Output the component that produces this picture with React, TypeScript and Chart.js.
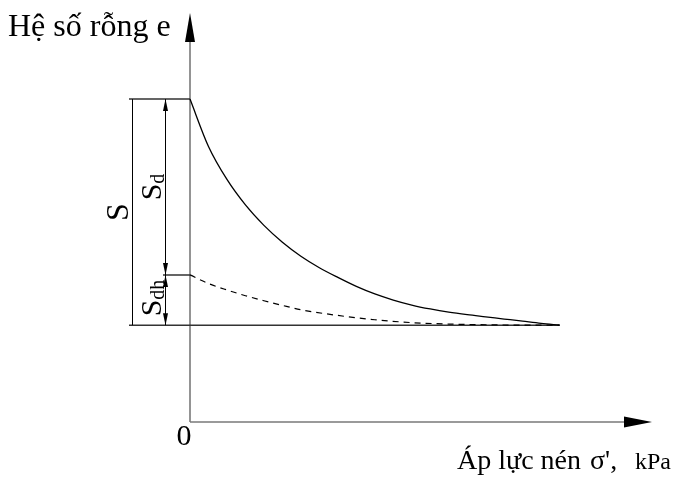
import React, { useEffect, useRef } from "react";
import { Chart, registerables } from "chart.js";

Chart.register(...registerables);

// Loading (compression) curve: effective stress σ' vs void ratio e
const sigmaLoading = [0, 5, 10, 15, 20, 25, 30, 35, 40, 45, 50, 55, 60, 65, 70, 75, 80, 85, 90, 95, 100];
const eLoading = [0.9, 0.768, 0.676, 0.605, 0.548, 0.501, 0.462, 0.43, 0.403, 0.378, 0.357, 0.34, 0.326, 0.315, 0.306, 0.299, 0.293, 0.287, 0.281, 0.275, 0.27];

// Rebound (dashed) curve
const sigmaRebound = [0, 5, 10, 15, 20, 25, 30, 40, 50, 60, 70, 80, 90, 100];
const eRebound = [0.41, 0.386, 0.368, 0.352, 0.338, 0.325, 0.313, 0.297, 0.285, 0.277, 0.273, 0.271, 0.27, 0.27];

// Key levels
const E_INITIAL = 0.9;
const E_DH = 0.41;
const E_RESIDUAL = 0.27;
const SIGMA_END = 100;
const X_MAX = 125;
const Y_MAX = 1.14;

// Texts
const yTitle = "Hệ số rỗng e";
const xTitleMain = "Áp lực nén";
const xTitleSymbol = "σ',";
const xTitleUnit = "kPa";
const originLabel = "0";
const labelS = "S";
const labelSdSub = "d";
const labelSdhSub = "dh";

const SERIF = '"Liberation Serif", "Times New Roman", serif';

function filledArrow(ctx: CanvasRenderingContext2D, tipX: number, tipY: number, dx: number, dy: number, len: number, half: number) {
  const bx = tipX - dx * len;
  const by = tipY - dy * len;
  const px = -dy, py = dx;
  ctx.beginPath();
  ctx.moveTo(tipX, tipY);
  ctx.lineTo(bx + px * half, by + py * half);
  ctx.lineTo(bx - px * half, by - py * half);
  ctx.closePath();
  ctx.fill();
}

function rotatedLabel(ctx: CanvasRenderingContext2D, baseX: number, centerY: number, main: string, sub: string, mainSize: number, subSize: number, subDrop: number) {
  ctx.save();
  ctx.translate(baseX, centerY);
  ctx.rotate(-Math.PI / 2);
  ctx.font = `${mainSize}px ${SERIF}`;
  const w1 = ctx.measureText(main).width;
  ctx.font = `${subSize}px ${SERIF}`;
  const w2 = sub ? ctx.measureText(sub).width : 0;
  const start = -(w1 + w2) / 2;
  ctx.textAlign = "left";
  ctx.textBaseline = "alphabetic";
  ctx.font = `${mainSize}px ${SERIF}`;
  ctx.fillText(main, start, 0);
  if (sub) {
    ctx.font = `${subSize}px ${SERIF}`;
    ctx.fillText(sub, start + w1, subDrop);
  }
  ctx.restore();
}

const diagramPlugin = {
  id: "diagram",
  beforeDatasetsDraw(chart: any) {
    const { ctx, chartArea } = chart;
    const xs = chart.scales.x;
    const ys = chart.scales.y;
    const x0 = xs.getPixelForValue(0);
    const y0 = ys.getPixelForValue(0);
    const yE0 = ys.getPixelForValue(E_INITIAL);
    const yEdh = ys.getPixelForValue(E_DH);
    const yEr = ys.getPixelForValue(E_RESIDUAL);
    const xEnd = xs.getPixelForValue(SIGMA_END);
    ctx.save();
    ctx.strokeStyle = "#7a7a7a";
    ctx.lineWidth = 1.6;
    ctx.beginPath();
    ctx.moveTo(x0, y0);
    ctx.lineTo(chartArea.right - 20, y0);
    ctx.moveTo(x0, y0);
    ctx.lineTo(x0, chartArea.top + 20);
    ctx.stroke();
    ctx.strokeStyle = "#333333";
    ctx.lineWidth = 1.5;
    ctx.beginPath();
    ctx.moveTo(x0 - 61, yE0);
    ctx.lineTo(x0, yE0);
    ctx.moveTo(x0 - 27, yEdh);
    ctx.lineTo(x0, yEdh);
    ctx.moveTo(x0 - 61, yEr);
    ctx.lineTo(xEnd, yEr);
    ctx.stroke();
    ctx.restore();
  },
  afterDatasetsDraw(chart: any) {
    const { ctx, chartArea } = chart;
    const xs = chart.scales.x;
    const ys = chart.scales.y;
    const x0 = xs.getPixelForValue(0);
    const y0 = ys.getPixelForValue(0);
    const yE0 = ys.getPixelForValue(E_INITIAL);
    const yEdh = ys.getPixelForValue(E_DH);
    const yEr = ys.getPixelForValue(E_RESIDUAL);
    ctx.save();
    ctx.fillStyle = "#000";
    filledArrow(ctx, x0, chartArea.top, 0, -1, 29, 5);
    filledArrow(ctx, chartArea.right, y0, 1, 0, 28, 5.5);

    const xS = Math.round(x0 - 58) + 0.5;
    const xSd = Math.round(x0 - 25) + 0.5;
    ctx.strokeStyle = "#000";
    ctx.lineWidth = 1;
    ctx.beginPath();
    ctx.moveTo(xS, yE0);
    ctx.lineTo(xS, yEr);
    ctx.moveTo(xSd, yE0);
    ctx.lineTo(xSd, yEr);
    ctx.stroke();
    filledArrow(ctx, xSd, yE0, 0, -1, 12, 2.5);
    filledArrow(ctx, xSd, yEdh, 0, 1, 12, 2.5);
    filledArrow(ctx, xSd, yEdh, 0, -1, 12, 2.5);
    filledArrow(ctx, xSd, yEr, 0, 1, 12, 2.5);

    ctx.fillStyle = "#000";
    ctx.textBaseline = "alphabetic";
    ctx.font = `32px ${SERIF}`;
    ctx.textAlign = "left";
    ctx.fillText(yTitle, 8, 36);

    ctx.textAlign = "center";
    ctx.font = `30px ${SERIF}`;
    ctx.fillText(originLabel, x0 - 6, y0 + 23);

    // x title
    ctx.textAlign = "left";
    ctx.font = `28px ${SERIF}`;
    ctx.fillText(xTitleMain, 457, 469);
    ctx.font = `28px ${SERIF}`;
    ctx.fillText(xTitleSymbol, 590, 469);
    ctx.font = `24px ${SERIF}`;
    ctx.fillText(xTitleUnit, 635, 469);

    rotatedLabel(ctx, xS - 5, (yE0 + yEr) / 2, labelS, "", 32, 20, 0);
    rotatedLabel(ctx, xSd - 5, (yE0 + yEdh) / 2, labelS, labelSdSub, 30, 20, 3);
    rotatedLabel(ctx, xSd - 5, (yEdh + yEr) / 2 - 2, labelS, labelSdhSub, 30, 20, 3);
    ctx.restore();
  },
};

export default function App() {
  const canvasRef = useRef<HTMLCanvasElement | null>(null);

  useEffect(() => {
    if (!canvasRef.current) return;
    const chart = new Chart(canvasRef.current, {
      type: "scatter",
      data: {
        datasets: [
          {
            label: "loading",
            data: sigmaLoading.map((s, i) => ({ x: s, y: eLoading[i] })),
            showLine: true,
            borderColor: "#000",
            borderWidth: 1.3,
            pointRadius: 0,
            cubicInterpolationMode: "monotone",
            clip: false,
          },
          {
            label: "rebound",
            data: sigmaRebound.map((s, i) => ({ x: s, y: eRebound[i] })),
            showLine: true,
            borderColor: "#000",
            borderWidth: 1.2,
            borderDash: [6, 5],
            pointRadius: 0,
            cubicInterpolationMode: "monotone",
            clip: false,
          },
        ],
      },
      options: {
        animation: false,
        responsive: true,
        maintainAspectRatio: false,
        layout: { padding: { left: 190, right: 27, top: 13, bottom: 57 } },
        plugins: { legend: { display: false }, tooltip: { enabled: false } },
        scales: {
          x: { type: "linear", min: 0, max: X_MAX, display: false },
          y: { type: "linear", min: 0, max: Y_MAX, display: false },
        },
      },
      plugins: [diagramPlugin],
    } as any);
    return () => chart.destroy();
  }, []);

  return (
    <div style={{ position: "absolute", left: 0, top: 0, width: 679, height: 479, background: "#fff" }}>
      <canvas ref={canvasRef} />
    </div>
  );
}
